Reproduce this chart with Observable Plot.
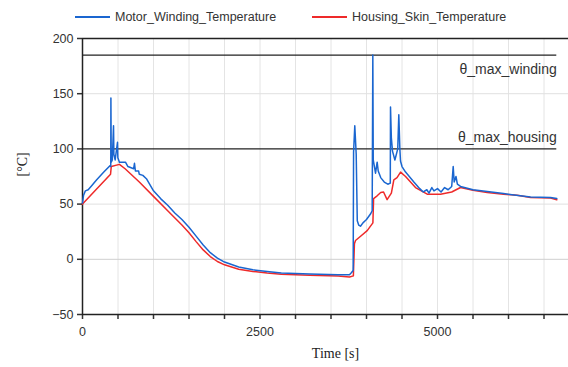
<!DOCTYPE html>
<html>
<head>
<meta charset="utf-8">
<script src="https://cdn.jsdelivr.net/npm/d3@7"></script>
<script src="https://cdn.jsdelivr.net/npm/@observablehq/plot@0.6"></script>
<style>
  body { margin: 0; background: #fff; }
  #wrap { position: relative; width: 568px; height: 367px; font-family: "Liberation Sans", Arial, sans-serif; }
  #legend { position: relative; height: 30px; }
  .lg { position: absolute; top: 10px; font-size: 12.5px; color: #333; white-space: nowrap; }
  .sw { position: absolute; top: 16px; height: 2px; width: 35px; }
</style>
</head>
<body>
<div id="wrap">
  <div id="legend">
    <div class="sw" style="left:75px;background:#1a66d0"></div>
    <div class="lg" style="left:115px">Motor_Winding_Temperature</div>
    <div class="sw" style="left:312px;background:#ee2a2a"></div>
    <div class="lg" style="left:352px">Housing_Skin_Temperature</div>
  </div>
  <div id="chart"></div>
</div>
<script>
// Motor winding temperature (blue)
const windingTime = [0,15,40,80,120,200,300,390,398,400,405,420,437,442,460,493,498,520,560,605,640,720,732,745,790,800,850,900,1000,1100,1200,1300,1400,1500,1600,1700,1800,1900,2000,2200,2400,2600,2800,3200,3600,3760,3790,3812,3818,3835,3855,3870,3890,3915,3950,4000,4056,4080,4089,4095,4127,4150,4165,4200,4250,4300,4335,4338,4350,4366,4400,4440,4455,4470,4479,4500,4550,4667,4750,4800,4850,4880,4920,4950,5000,5050,5100,5150,5200,5221,5235,5260,5280,5324,5500,5930,6310,6592,6680];
const windingTemp = [51,58,62,63,66,72,79,85,84,146,88,90,121,95,90,106,92,88,88,88,84,82,87,80,80,77,76,73,62,55,49,42,36,29,21,13,6,1,-2.5,-7,-9.5,-11,-12.3,-13.3,-14,-14,-12,-10,97,121,95,35,31,30,33,36,41,44,185,90,78,88,80,74,70,68,69,138,110,98,90,100,131,100,89,84,79,70,64,61,63,60,65,62,64,61,65,63,66,84,70,75,68,66,63,59.5,56.5,56,55];

// Housing skin temperature (red)
const housingTime = [0,395,405,520,600,800,1000,1200,1400,1500,1600,1700,1800,1900,2000,2200,2400,2600,2800,3200,3600,3760,3815,3830,3845,3900,4010,4090,4100,4150,4200,4240,4290,4350,4385,4430,4480,4550,4690,4855,5042,5200,5324,5500,5700,5930,6122,6310,6592,6680];
const housingTemp = [50,77,84,86,82,70,57,44,31,24,16,8.5,2.5,-2,-5,-9,-11,-12.5,-13.6,-14.5,-15.2,-16,-15,14,17,20,26,33,55,57.5,60.5,61,54,60,72,74,79,75,65,59,59,61,65,62.5,60.5,59,58,56,55.5,54];

// Limit lines
const limitNames = ["θ_max_winding", "θ_max_housing"];
const limitValues = [185, 100];
const limitEnd = 6680;

// Axes
const xTicks = [0,500,1000,1500,2000,2500,3000,3500,4000,4500,5000,5500,6000,6500];
const xLabeled = [0, 2500, 5000];
const yTicks = [-50, 0, 50, 100, 150, 200];

const winding = windingTime.map((t, i) => ({t, v: windingTemp[i]}));
const housing = housingTime.map((t, i) => ({t, v: housingTemp[i]}));
const limits = limitNames.map((name, i) => ({name, v: limitValues[i]}));

const chart = Plot.plot({
  width: 568,
  height: 337,
  marginLeft: 82,
  marginRight: 0,
  marginTop: 8,
  marginBottom: 53,
  style: {fontFamily: "'Liberation Sans', Arial, sans-serif", fontSize: "12.5px", color: "#333", background: "#fff"},
  x: {domain: [0, 6845]},
  y: {domain: [-50, 200]},
  marks: [
    Plot.gridX(xTicks, {stroke: "#e4e4e4", strokeOpacity: 1}),
    Plot.gridY([50, 150], {stroke: "#e0e0e0", strokeOpacity: 1}),
    Plot.gridY([0], {stroke: "#cfcfcf", strokeOpacity: 1}),
    Plot.axisX({ticks: xTicks, tickSize: 5, tickPadding: 8, tickFormat: d => xLabeled.includes(d) ? String(d) : "", label: null, stroke: "#333", strokeWidth: 1.5}),
    Plot.axisY({ticks: yTicks, tickSize: 5, tickPadding: 4, label: null, stroke: "#333", strokeWidth: 1.5}),
    Plot.ruleX([0], {stroke: "#222", strokeWidth: 1.5}),
    Plot.ruleY([-50], {stroke: "#222", strokeWidth: 1.5}),
    Plot.ruleY([200], {stroke: "#222", strokeWidth: 1.5}),
    Plot.ruleY(limits, {y: "v", x1: 0, x2: limitEnd, stroke: "#222", strokeWidth: 1.3}),
    Plot.line(housing, {x: "t", y: "v", stroke: "#ee2a2a", strokeWidth: 1.5}),
    Plot.line(winding, {x: "t", y: "v", stroke: "#1a66d0", strokeWidth: 1.5}),
    Plot.text(limits.slice(0, 1), {x: limitEnd, y: "v", text: "name", textAnchor: "end", dy: 14, fontSize: 14, fill: "#333"}),
    Plot.text(limits.slice(1, 2), {x: limitEnd, y: "v", text: "name", textAnchor: "end", dy: -11, fontSize: 14, fill: "#333"}),
    Plot.text(["Time [s]"], {frameAnchor: "bottom", dx: 10, dy: 43, fontFamily: "'Liberation Serif', serif", fontSize: 14, fill: "#222"}),
    Plot.text(["[°C]"], {frameAnchor: "left", dx: -60, rotate: -90, fontFamily: "'Liberation Serif', serif", fontSize: 14, fill: "#222"})
  ]
});
document.getElementById("chart").appendChild(chart);
</script>
</body>
</html>
